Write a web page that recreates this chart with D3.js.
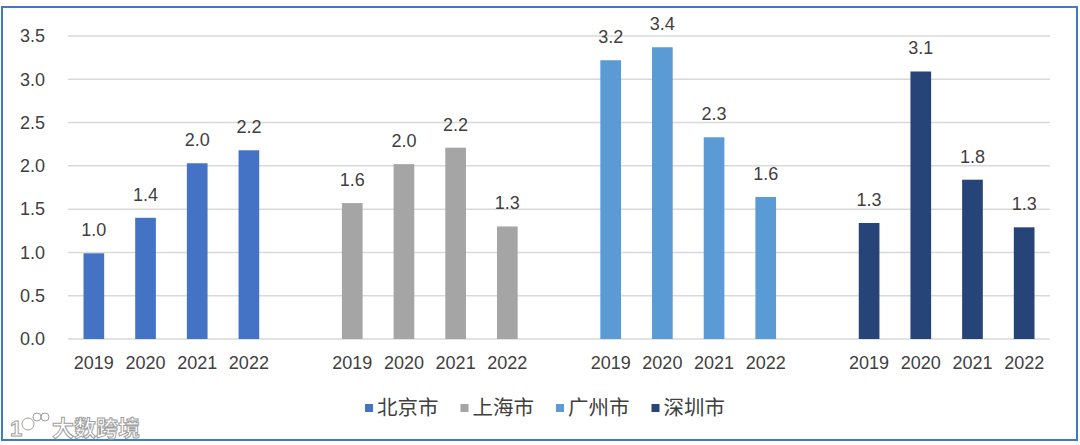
<!DOCTYPE html>
<html>
<head>
<meta charset="utf-8">
<script src="https://cdn.jsdelivr.net/npm/d3@7"></script>
<style>
  body { margin: 0; background: #fff; }
  svg { display: block; }
  text { font-family: "Liberation Sans", Arial, "Noto Sans CJK SC", sans-serif; }
</style>
</head>
<body>
<svg class="chart" width="1080" height="445"></svg>
<script>
var cities = ["北京市", "上海市", "广州市", "深圳市"];
var years = ["2019", "2020", "2021", "2022"];
var colors = ["#4472C4", "#A5A5A5", "#5B9BD5", "#264478"];
var bj = [0.99, 1.40, 2.03, 2.18];
var sh = [1.57, 2.02, 2.21, 1.30];
var gz = [3.22, 3.37, 2.33, 1.64];
var sz = [1.34, 3.09, 1.84, 1.29];
var yTicks = [0, 0.5, 1.0, 1.5, 2.0, 2.5, 3.0, 3.5];

var series = [bj, sh, gz, sz];
var plotL = 68, plotR = 1050, plotT = 36, plotB = 339;

var svg = d3.select("svg.chart");

// outer frame
svg.append("rect")
    .attr("x", 2).attr("y", 7)
    .attr("width", 1075).attr("height", 433)
    .attr("fill", "none")
    .attr("stroke", "#3E7CBF")
    .attr("stroke-width", 2);

// slots: 4 years per city, one empty slot between cities
var slots = [];
var bars = [];
cities.forEach(function(c, i){
    years.forEach(function(yr, j){
        var key = c + "-" + yr;
        slots.push(key);
        bars.push({key: key, year: yr, city: i, v: series[i][j]});
    });
    if(i < cities.length - 1) slots.push("gap" + i);
});

var x = d3.scaleBand().domain(slots).range([plotL, plotR]).paddingInner(0.6).paddingOuter(0.3);
var y = d3.scaleLinear().domain([0, 3.5]).range([plotB, plotT]);

// grid
svg.append("g").selectAll("line")
    .data(yTicks)
    .enter().append("line")
    .attr("x1", plotL).attr("x2", plotR)
    .attr("y1", function(d){ return y(d); })
    .attr("y2", function(d){ return y(d); })
    .attr("stroke", "#D9D9D9")
    .attr("stroke-width", 1.5);

// y labels
svg.append("g").selectAll("text")
    .data(yTicks)
    .enter().append("text")
    .attr("x", 45)
    .attr("y", function(d){ return y(d); })
    .attr("dy", "0.35em")
    .attr("text-anchor", "end")
    .attr("font-size", 18)
    .attr("fill", "#404040")
    .text(function(d){ return d3.format(".1f")(d); });

// bars
svg.append("g").selectAll("rect")
    .data(bars)
    .enter().append("rect")
    .attr("x", function(d){ return x(d.key); })
    .attr("width", x.bandwidth())
    .attr("y", function(d){ return y(d.v); })
    .attr("height", function(d){ return y(0) - y(d.v); })
    .attr("fill", function(d){ return colors[d.city]; });

// value labels
svg.append("g").selectAll("text")
    .data(bars)
    .enter().append("text")
    .attr("x", function(d){ return x(d.key) + x.bandwidth()/2; })
    .attr("y", function(d){ return Math.min(y(d.v) - 17, 32 + (y(d.v) - 47)); })
    .attr("text-anchor", "middle")
    .attr("font-size", 18)
    .attr("fill", "#404040")
    .text(function(d){ return d3.format(".1f")(d.v); });

// x labels
svg.append("g").selectAll("text")
    .data(bars)
    .enter().append("text")
    .attr("x", function(d){ return x(d.key) + x.bandwidth()/2; })
    .attr("y", 369)
    .attr("text-anchor", "middle")
    .attr("font-size", 18)
    .attr("fill", "#404040")
    .text(function(d){ return d.year; });

// legend
var legend = svg.append("g").selectAll("g")
    .data(cities)
    .enter().append("g")
    .attr("transform", function(d, i){ return "translate(" + (365 + i*95.5) + ",0)"; });
legend.append("rect")
    .attr("x", 0).attr("y", 404)
    .attr("width", 8).attr("height", 8)
    .attr("fill", function(d, i){ return colors[i]; });
legend.append("text")
    .attr("x", 12).attr("y", 415)
    .attr("font-size", 20.5)
    .attr("font-family", "Noto Sans CJK SC")
    .attr("fill", "#404040")
    .text(function(d){ return d; });

// watermark
var wm = svg.append("g")
    .attr("fill", "#fff")
    .attr("stroke", "#A0A0A0")
    .attr("stroke-width", 1);
wm.append("text")
    .attr("x", 10).attr("y", 436)
    .attr("font-size", 22)
    .attr("font-weight", "bold")
    .text("1");
wm.append("circle").attr("cx", 28).attr("cy", 424).attr("r", 6);
wm.append("circle").attr("cx", 37).attr("cy", 417).attr("r", 4);
wm.append("circle").attr("cx", 45).attr("cy", 417).attr("r", 4);
wm.append("text")
    .attr("x", 52).attr("y", 436)
    .attr("font-size", 22)
    .attr("font-family", "Noto Sans CJK SC")
    .attr("font-weight", "bold")
    .text("大数跨境");
</script>
</body>
</html>
